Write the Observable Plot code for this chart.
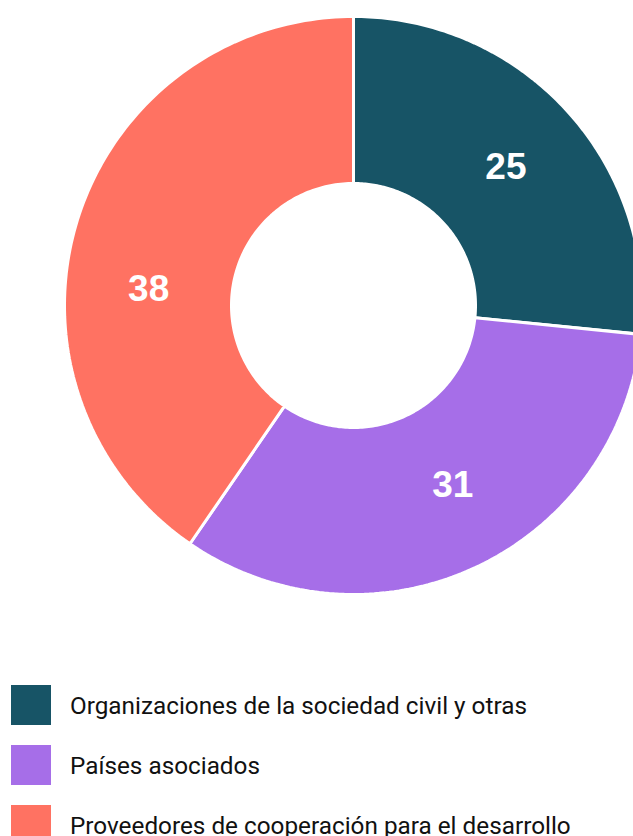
<!DOCTYPE html>
<html>
<head>
<meta charset="utf-8">
<script src="https://cdn.jsdelivr.net/npm/d3@7"></script>
<script src="https://cdn.jsdelivr.net/npm/@observablehq/plot@0.6"></script>
<style>
  html, body { margin: 0; padding: 0; background: #fff; }
  #chart { width: 633px; height: 836px; overflow: hidden; position: relative; }
  .legend { position: absolute; left: 11px; top: 685px; font-family: Roboto, "Liberation Sans", sans-serif; font-size: 24.3px; color: #111; }
  .legend .row { display: flex; align-items: center; height: 40px; margin-bottom: 20px; }
  .legend .sw { width: 40px; height: 40px; margin-right: 19px; flex: none; }
</style>
</head>
<body>
<div id="chart"></div>
<script>
const categories = ["Organizaciones de la sociedad civil y otras", "Países asociados", "Proveedores de cooperación para el desarrollo"];
const values = [25, 31, 38];
const colors = ["#175466", "#A66EE8", "#FF7262"];

const W = 633, H = 640;
const cx = 353, cy = 305, R = 289, r0 = 122;

const pie = d3.pie().sort(null).value(d => d.value);
const arcs = pie(categories.map((c, i) => ({category: c, value: values[i], color: colors[i]})));

const polys = [];
arcs.forEach(a => {
  const n = 120;
  const pts = [];
  for (let i = 0; i <= n; i++) {
    const t = a.startAngle + (a.endAngle - a.startAngle) * i / n;
    pts.push({x: R * Math.sin(t), y: -R * Math.cos(t)});
  }
  for (let i = n; i >= 0; i--) {
    const t = a.startAngle + (a.endAngle - a.startAngle) * i / n;
    pts.push({x: r0 * Math.sin(t), y: -r0 * Math.cos(t)});
  }
  pts.forEach(p => polys.push({...p, category: a.data.category, color: a.data.color}));
});

// label placement: centroid of each slice, nudged along the arc for the larger slices
const nudge = [0, -0.07, -0.22];
const labels = arcs.map((a, i) => {
  const m = (a.startAngle + a.endAngle) / 2 + nudge[i], rm = (R + r0) / 2;
  return {x: rm * Math.sin(m), y: -rm * Math.cos(m), value: a.data.value};
});

const plot = Plot.plot({
  width: W, height: H,
  margin: 0,
  x: {domain: [-cx, W - cx], range: [0, W], axis: null},
  y: {domain: [-cy, H - cy], range: [0, H], axis: null},
  style: {background: "transparent", overflow: "hidden"},
  marks: [
    Plot.line(polys, {x: "x", y: "y", z: "category", fill: "color", stroke: "#fff", strokeWidth: 3, curve: "linear-closed", strokeLinejoin: "miter"}),
    Plot.text(labels, {x: "x", y: "y", text: "value", fill: "#fff", fontSize: 37, fontWeight: "bold", fontFamily: "'Liberation Sans', Arial, sans-serif"})
  ]
});
document.getElementById("chart").appendChild(plot);

const leg = document.createElement("div");
leg.className = "legend";
categories.forEach((c, i) => {
  const row = document.createElement("div");
  row.className = "row";
  const sw = document.createElement("div");
  sw.className = "sw";
  sw.style.background = colors[i];
  const tx = document.createElement("span");
  tx.textContent = c;
  row.appendChild(sw); row.appendChild(tx);
  leg.appendChild(row);
});
document.getElementById("chart").appendChild(leg);
</script>
</body>
</html>
